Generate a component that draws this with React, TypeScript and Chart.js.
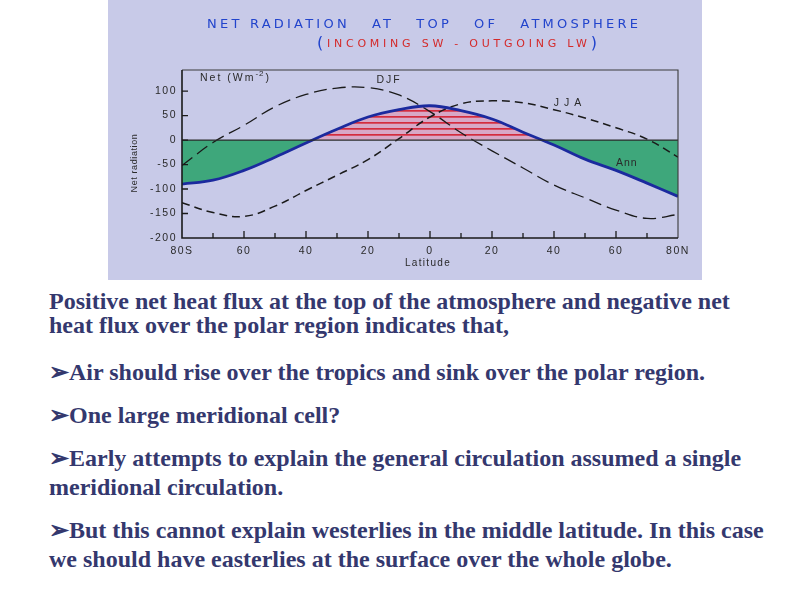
import React, { useEffect, useRef } from "react";
import { Chart, registerables } from "chart.js";

Chart.register(...registerables);

// ---- data ----
const latitudes = [-80, -70, -60, -50, -40, -30, -20, -10, 0, 10, 20, 30, 40, 50, 60, 70, 80];
const annualNet = [-90, -82, -62, -35, -6, 22, 47, 62, 70, 60, 43, 16, -10, -39, -62, -88, -115];
const djfNet = [-52, -5, 30, 68, 93, 106, 107, 92, 58, 15, -22, -57, -92, -118, -143, -160, -152];
const jjaNet = [-128, -148, -156, -135, -103, -72, -40, 3, 47, 74, 80, 76, 62, 45, 25, 2, -35];

const xTickValues = [-80, -70, -60, -50, -40, -30, -20, -10, 0, 10, 20, 30, 40, 50, 60, 70, 80];
const xTickLabels = ["80S", "", "60", "", "40", "", "20", "", "0", "", "20", "", "40", "", "60", "", "80N"];
const yTickValues = [-200, -150, -100, -50, 0, 50, 100];
const yTickLabels = ["-200", "-150", "-100", "-50", "0", "50", "100"];

const titleLine1 = "NET RADIATION   AT   TOP   OF   ATMOSPHERE";
const titleLine2 = "INCOMING SW - OUTGOING LW";
const yTitle = "Net radiation";
const xTitle = "Latitude";

const paragraphs: { lines: string[] }[] = [
  { lines: ["Positive net heat flux at the top of the atmosphere and negative net", "heat flux over the polar region indicates that,"] },
  { lines: ["\u27A2Air should rise over the tropics and sink over the polar region."] },
  { lines: ["\u27A2One large meridional cell?"] },
  { lines: ["\u27A2Early attempts to explain the general circulation assumed a single", "meridional circulation."] },
  { lines: ["\u27A2But this cannot explain westerlies in the middle latitude. In this case", "we should have easterlies at the surface over the whole globe."] },
];
const paraTops = [289, 358, 401, 444, 516];
const paraLineHeights = [24, 29, 29, 29, 29];

const BG = "#c8cae8";
const GREEN = "#3ea77b";
const BLUE = "#1b2a9e";
const TITLE_BLUE = "#2244cc";
const TITLE_RED = "#d42a2a";
const AXIS_FONT = "'Liberation Sans', Arial, sans-serif";

function makeHatch(): CanvasPattern | string {
  const c = document.createElement("canvas");
  c.width = 12;
  c.height = 6;
  const g = c.getContext("2d");
  if (!g) return "#d9a6c6";
  g.fillStyle = "#d8a8c6";
  g.fillRect(0, 0, 12, 6);
  g.fillStyle = "#d42c3e";
  g.fillRect(0, 2, 12, 1.7);
  return g.createPattern(c, "repeat") || "#d9a6c6";
}

type Part = { text: string; color: string; font: string };

function drawFitted(ctx: CanvasRenderingContext2D, parts: Part[], left: number, right: number, y: number) {
  let widths = 0;
  let chars = 0;
  for (const p of parts) {
    ctx.font = p.font;
    ctx.letterSpacing = "0px";
    widths += ctx.measureText(p.text).width;
    chars += p.text.length;
  }
  const spacing = Math.max(0, (right - left - widths) / Math.max(1, chars - 1));
  let x = left;
  ctx.textBaseline = "middle";
  ctx.textAlign = "left";
  for (const p of parts) {
    ctx.font = p.font;
    ctx.letterSpacing = "0px";
    const w = ctx.measureText(p.text).width;
    ctx.letterSpacing = spacing + "px";
    ctx.fillStyle = p.color;
    ctx.fillText(p.text, x, y);
    x += w + spacing * p.text.length;
  }
  ctx.letterSpacing = "0px";
}

const framePlugin = {
  id: "frame",
  beforeDraw(chart: any) {
    chart.ctx.letterSpacing = "1.5px";
  },
  afterDatasetsDraw(chart: any) {
    const { ctx, chartArea: a, scales } = chart;
    const x = scales.x;
    const y = scales.y;
    ctx.save();
    ctx.letterSpacing = "0px";

    // zero line
    const y0 = y.getPixelForValue(0);
    ctx.strokeStyle = "#2b2b2b";
    ctx.lineWidth = 1.2;
    ctx.beginPath();
    ctx.moveTo(a.left, y0);
    ctx.lineTo(a.right, y0);
    ctx.stroke();

    // top + right border
    ctx.strokeStyle = "#3a3a3a";
    ctx.lineWidth = 1.1;
    ctx.beginPath();
    ctx.moveTo(a.left, a.top);
    ctx.lineTo(a.right, a.top);
    ctx.lineTo(a.right, a.bottom);
    ctx.stroke();

    // left + bottom axis
    ctx.strokeStyle = "#1a1a1a";
    ctx.lineWidth = 1.6;
    ctx.beginPath();
    ctx.moveTo(a.left, a.top);
    ctx.lineTo(a.left, a.bottom);
    ctx.lineTo(a.right, a.bottom);
    ctx.stroke();

    // inward tick marks
    ctx.lineWidth = 1.3;
    ctx.beginPath();
    for (const v of xTickValues) {
      if (v === -80 || v === 80) continue;
      const px = x.getPixelForValue(v);
      const len = v % 20 === 0 ? 7 : 5;
      ctx.moveTo(px, a.bottom);
      ctx.lineTo(px, a.bottom - len);
    }
    for (const v of yTickValues) {
      if (v === -200) continue;
      const py = y.getPixelForValue(v);
      ctx.moveTo(a.left, py);
      ctx.lineTo(a.left + 6, py);
    }
    ctx.stroke();

    // in-plot labels
    ctx.fillStyle = "#2a2a2a";
    ctx.textBaseline = "middle";
    ctx.font = `10.5px ${AXIS_FONT}`;
    ctx.letterSpacing = "2px";
    ctx.textAlign = "left";
    let nx = x.getPixelForValue(-74.2);
    const ny = y.getPixelForValue(126.5);
    ctx.fillText("Net (Wm", nx, ny);
    nx += ctx.measureText("Net (Wm").width;
    ctx.font = `8px ${AXIS_FONT}`;
    ctx.letterSpacing = "1px";
    ctx.fillText("-2", nx, ny - 4);
    nx += ctx.measureText("-2").width + 1;
    ctx.font = `10.5px ${AXIS_FONT}`;
    ctx.letterSpacing = "2px";
    ctx.fillText(")", nx, ny);

    ctx.textAlign = "center";
    ctx.fillText("DJF", x.getPixelForValue(-13.2), y.getPixelForValue(122));
    ctx.letterSpacing = "5px";
    ctx.fillText("JJA", x.getPixelForValue(45.2), y.getPixelForValue(75.5));
    ctx.letterSpacing = "1px";
    ctx.fillText("Ann", x.getPixelForValue(63.5), y.getPixelForValue(-47));

    // axis titles
    ctx.font = `10px ${AXIS_FONT}`;
    ctx.letterSpacing = "1.3px";
    ctx.fillText(xTitle, (a.left + a.right) / 2 - 2, 263);
    ctx.save();
    ctx.translate(27, 163);
    ctx.rotate(-Math.PI / 2);
    ctx.font = `9px ${AXIS_FONT}`;
    ctx.letterSpacing = "0.6px";
    ctx.fillText(yTitle, 0, 0);
    ctx.restore();

    // hand-lettered title
    drawFitted(ctx, [{ text: titleLine1, color: TITLE_BLUE, font: "13px 'DejaVu Sans', sans-serif" }], 99, 530, 25);
    drawFitted(
      ctx,
      [
        { text: "(", color: TITLE_BLUE, font: "16px 'DejaVu Sans', sans-serif" },
        { text: titleLine2, color: TITLE_RED, font: "11px 'DejaVu Sans', sans-serif" },
        { text: ")", color: TITLE_BLUE, font: "16px 'DejaVu Sans', sans-serif" },
      ],
      209,
      489,
      44
    );
    ctx.restore();
  },
};

export default function App() {
  const ref = useRef<HTMLCanvasElement>(null);

  useEffect(() => {
    const canvas = ref.current;
    if (!canvas) return;
    const hatch = makeHatch();
    const pts = (vals: number[]) => latitudes.map((lat, i) => ({ x: lat, y: vals[i] }));
    const chart = new Chart(canvas, {
      type: "line",
      data: {
        datasets: [
          {
            label: "Ann",
            data: pts(annualNet),
            borderColor: BLUE,
            borderWidth: 2.8,
            pointRadius: 0,
            tension: 0.4,
            fill: { target: { value: 0 }, above: hatch as any, below: GREEN },
          },
          {
            label: "DJF",
            data: pts(djfNet),
            borderColor: "#1a1a1a",
            borderWidth: 1.3,
            borderDash: [13, 6],
            pointRadius: 0,
            tension: 0.4,
            fill: false,
          },
          {
            label: "JJA",
            data: pts(jjaNet),
            borderColor: "#1a1a1a",
            borderWidth: 1.5,
            borderDash: [8, 5],
            pointRadius: 0,
            tension: 0.4,
            fill: false,
          },
        ],
      },
      options: {
        responsive: false,
        animation: false,
        layout: { padding: { left: 0, top: 70, right: 24, bottom: 0 } },
        plugins: {
          legend: { display: false },
          tooltip: { enabled: false },
          title: { display: false },
          filler: { drawTime: "beforeDatasetsDraw" },
        } as any,
        scales: {
          x: {
            type: "linear",
            min: -80,
            max: 80,
            afterBuildTicks: (s: any) => {
              s.ticks = xTickValues.map((v) => ({ value: v }));
            },
            afterFit: (s: any) => {
              s.height = 42;
            },
            grid: { display: false, drawTicks: false },
            border: { display: false },
            ticks: {
              autoSkip: false,
              maxRotation: 0,
              padding: 7,
              color: "#2a2a2a",
              font: { family: AXIS_FONT, size: 10.5 },
              callback: (v: any) => xTickLabels[xTickValues.indexOf(Number(v))] ?? "",
            },
          },
          y: {
            type: "linear",
            min: -200,
            max: 143,
            afterBuildTicks: (s: any) => {
              s.ticks = yTickValues.map((v) => ({ value: v }));
            },
            afterFit: (s: any) => {
              s.width = 74;
            },
            grid: { display: false, drawTicks: false },
            border: { display: false },
            ticks: {
              autoSkip: false,
              padding: 5,
              color: "#2a2a2a",
              font: { family: AXIS_FONT, size: 10.5 },
              callback: (v: any) => yTickLabels[yTickValues.indexOf(Number(v))] ?? "",
            },
          },
        },
      },
      plugins: [framePlugin],
    });
    return () => chart.destroy();
  }, []);

  return (
    <div style={{ position: "absolute", left: 0, top: 0, width: 794, height: 595, background: "#ffffff", overflow: "hidden" }}>
      <div style={{ position: "absolute", left: 108, top: 0, width: 594, height: 280, background: BG }}>
        <canvas ref={ref} width={594} height={280} style={{ display: "block", width: 594, height: 280 }} />
      </div>
      {paragraphs.map((p, i) => (
        <div
          key={i}
          style={{
            position: "absolute",
            left: 49,
            top: paraTops[i],
            fontFamily: "'Liberation Serif', 'Times New Roman', serif",
            fontWeight: "bold",
            fontSize: 24,
            lineHeight: paraLineHeights[i] + "px",
            color: "#34386e",
            whiteSpace: "nowrap",
          }}
        >
          {p.lines.map((l, j) => (
            <div key={j}>{l}</div>
          ))}
        </div>
      ))}
    </div>
  );
}
